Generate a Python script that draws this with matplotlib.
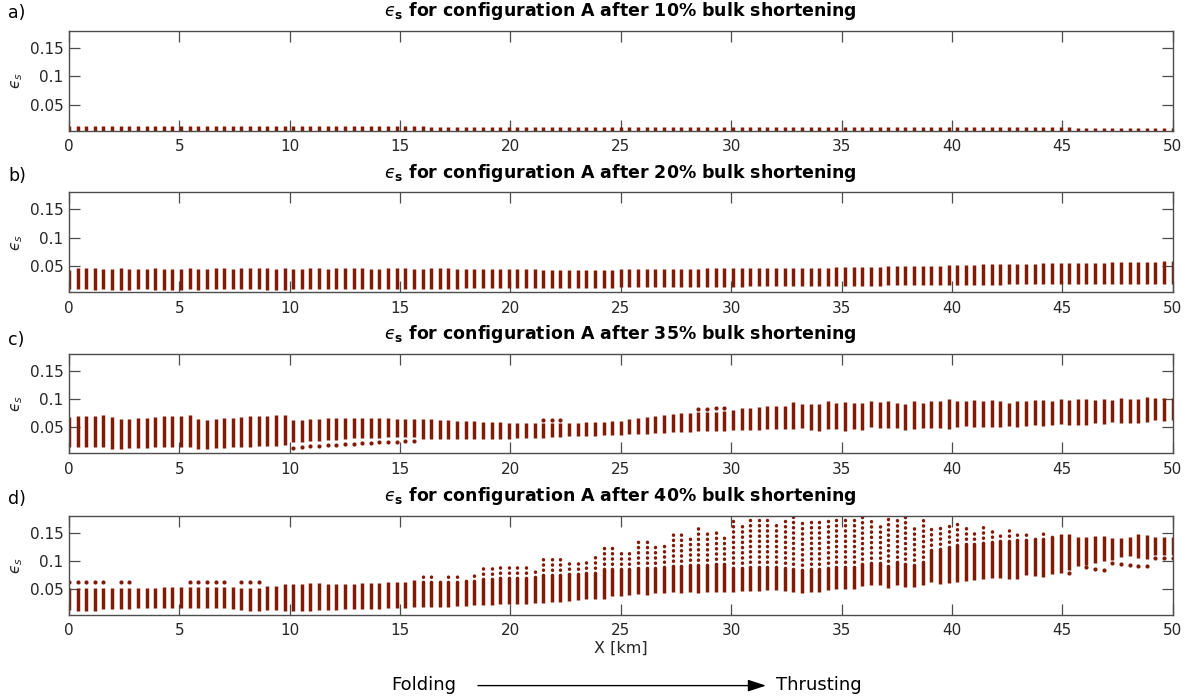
import numpy as np
import matplotlib
matplotlib.use('Agg')
import matplotlib.pyplot as plt
from matplotlib.patches import FancyArrowPatch

# ---------------- data ----------------
x_km = np.linspace(0, 50, 129)   # model columns (grid positions, km)

titles = ['10%', '20%', '35%', '40%']
panel_labels = ['a)', 'b)', 'c)', 'd)']
xticks = [0, 5, 10, 15, 20, 25, 30, 35, 40, 45, 50]
yticks = [0.05, 0.1, 0.15]
yticklabels = ['0.05', '0.1', '0.15']
nan = float('nan')

a_lo = [0.0042, 0.0042, 0.0041, 0.0041, 0.0042, 0.0042, 0.0041, 0.0041, 0.0042, 0.0042,
        0.0042, 0.0042, 0.0042, 0.0042, 0.0042, 0.0042, 0.0042, 0.0042, 0.0042, 0.0042,
        0.0042, 0.0042, 0.0042, 0.0042, 0.0042, 0.0042, 0.0042, 0.0042, 0.0042, 0.0042,
        0.0042, 0.0042, 0.0042, 0.0042, 0.0042, 0.0042, 0.0042, 0.0042, 0.0042, 0.0042,
        0.0042, 0.0042, 0.0042, 0.0042, 0.0042, 0.0042, 0.0042, 0.0042, 0.0042, 0.0042,
        0.0042, 0.0042, 0.0042, 0.0042, 0.0042, 0.0042, 0.0042, 0.0042, 0.0042, 0.0042,
        0.0042, 0.0042, 0.0042, 0.0042, 0.0042, 0.0042, 0.0042, 0.0042, 0.0042, 0.0042,
        0.0042, 0.0042, 0.0042, 0.0042, 0.0042, 0.0042, 0.0042, 0.0042, 0.0042, 0.0042,
        0.0042, 0.0042, 0.0042, 0.0042, 0.0042, 0.0042, 0.0042, 0.0042, 0.0042, 0.0042,
        0.0042, 0.0042, 0.0042, 0.0042, 0.0042, 0.0042, 0.0042, 0.0042, 0.0042, 0.0042,
        0.0043, 0.0043, 0.0043, 0.0043, 0.0043, 0.0043, 0.0043, 0.0043, 0.0043, 0.0043,
        0.0043, 0.0043, 0.0043, 0.0043, 0.0043, 0.0043, 0.0043, 0.0043, 0.0043, 0.0043,
        0.0043, 0.0043, 0.0043, 0.0043, 0.0043, 0.0043, 0.0043, 0.0043, 0.0043]
a_hi = [0.0125, 0.0126, 0.0125, 0.0126, 0.0127, 0.0127, 0.0128, 0.0128, 0.0127, 0.0126,
        0.0125, 0.0125, 0.0124, 0.0124, 0.0123, 0.0123, 0.0122, 0.0122, 0.0122, 0.0121,
        0.0121, 0.0121, 0.0120, 0.0120, 0.0120, 0.0119, 0.0119, 0.0119, 0.0118, 0.0118,
        0.0118, 0.0117, 0.0117, 0.0117, 0.0117, 0.0116, 0.0116, 0.0116, 0.0115, 0.0115,
        0.0115, 0.0115, 0.0114, 0.0114, 0.0114, 0.0113, 0.0113, 0.0113, 0.0113, 0.0112,
        0.0112, 0.0112, 0.0112, 0.0111, 0.0111, 0.0111, 0.0111, 0.0110, 0.0110, 0.0110,
        0.0110, 0.0109, 0.0109, 0.0109, 0.0109, 0.0108, 0.0108, 0.0108, 0.0108, 0.0107,
        0.0107, 0.0107, 0.0107, 0.0106, 0.0106, 0.0106, 0.0106, 0.0105, 0.0105, 0.0105,
        0.0105, 0.0104, 0.0104, 0.0104, 0.0104, 0.0103, 0.0103, 0.0103, 0.0103, 0.0102,
        0.0102, 0.0102, 0.0102, 0.0101, 0.0101, 0.0101, 0.0101, 0.0100, 0.0100, 0.0100,
        0.0100, 0.0100, 0.0099, 0.0099, 0.0099, 0.0099, 0.0099, 0.0098, 0.0098, 0.0098,
        0.0098, 0.0098, 0.0097, 0.0097, 0.0097, 0.0097, 0.0097, 0.0096, 0.0096, 0.0096,
        0.0096, 0.0096, 0.0095, 0.0095, 0.0095, 0.0095, 0.0095, 0.0094, 0.0094]

b_lo = [0.0090, 0.0092, 0.0090, 0.0088, 0.0090, 0.0088, 0.0086, 0.0088, 0.0090, 0.0090,
        0.0088, 0.0088, 0.0086, 0.0088, 0.0090, 0.0088, 0.0090, 0.0092, 0.0090, 0.0090,
        0.0092, 0.0090, 0.0090, 0.0088, 0.0088, 0.0088, 0.0090, 0.0092, 0.0092, 0.0094,
        0.0094, 0.0094, 0.0096, 0.0096, 0.0096, 0.0098, 0.0098, 0.0100, 0.0100, 0.0100,
        0.0102, 0.0102, 0.0104, 0.0104, 0.0106, 0.0106, 0.0108, 0.0108, 0.0110, 0.0110,
        0.0112, 0.0112, 0.0114, 0.0114, 0.0116, 0.0116, 0.0118, 0.0118, 0.0120, 0.0120,
        0.0122, 0.0122, 0.0124, 0.0124, 0.0126, 0.0126, 0.0128, 0.0128, 0.0130, 0.0130,
        0.0132, 0.0134, 0.0134, 0.0136, 0.0138, 0.0138, 0.0140, 0.0140, 0.0142, 0.0144,
        0.0144, 0.0146, 0.0146, 0.0148, 0.0148, 0.0150, 0.0150, 0.0152, 0.0152, 0.0154,
        0.0154, 0.0156, 0.0156, 0.0158, 0.0158, 0.0160, 0.0160, 0.0162, 0.0162, 0.0164,
        0.0164, 0.0166, 0.0166, 0.0168, 0.0170, 0.0170, 0.0172, 0.0174, 0.0176, 0.0178,
        0.0178, 0.0180, 0.0182, 0.0184, 0.0186, 0.0188, 0.0188, 0.0190, 0.0190, 0.0190,
        0.0190, 0.0192, 0.0190, 0.0190, 0.0188, 0.0190, 0.0190, 0.0192, 0.0190]
b_hi = [0.044, 0.047, 0.047, 0.046, 0.045, 0.045, 0.046, 0.045, 0.045, 0.045,
        0.046, 0.045, 0.045, 0.045, 0.046, 0.045, 0.045, 0.046, 0.046, 0.045,
        0.046, 0.046, 0.046, 0.046, 0.045, 0.046, 0.045, 0.045, 0.046, 0.046,
        0.045, 0.046, 0.046, 0.046, 0.046, 0.045, 0.045, 0.046, 0.046, 0.046,
        0.045, 0.045, 0.046, 0.046, 0.046, 0.045, 0.045, 0.045, 0.045, 0.045,
        0.045, 0.045, 0.045, 0.045, 0.045, 0.044, 0.044, 0.044, 0.044, 0.044,
        0.044, 0.044, 0.044, 0.044, 0.045, 0.045, 0.045, 0.045, 0.045, 0.045,
        0.045, 0.045, 0.045, 0.045, 0.046, 0.046, 0.046, 0.046, 0.046, 0.046,
        0.046, 0.046, 0.046, 0.046, 0.046, 0.046, 0.047, 0.047, 0.047, 0.048,
        0.048, 0.048, 0.049, 0.049, 0.049, 0.050, 0.050, 0.050, 0.050, 0.051,
        0.051, 0.051, 0.052, 0.052, 0.052, 0.052, 0.053, 0.053, 0.053, 0.053,
        0.054, 0.054, 0.054, 0.055, 0.055, 0.055, 0.055, 0.056, 0.056, 0.056,
        0.056, 0.057, 0.057, 0.058, 0.058, 0.058, 0.058, 0.059, 0.059]

c_lo = [0.0159, 0.0159, 0.0159, 0.0159, 0.0147, 0.0118, 0.0118, 0.0130, 0.0130, 0.0135,
        0.0147, 0.0147, 0.0147, 0.0159, 0.0159, 0.0118, 0.0118, 0.0130, 0.0141, 0.0147,
        0.0159, 0.0159, 0.0165, 0.0170, 0.0177, 0.0188, 0.0235, 0.0247, 0.0259, 0.0265,
        0.0277, 0.0282, 0.0294, 0.0306, 0.0312, 0.0318, 0.0318, 0.0324, 0.0326, 0.0328,
        0.0330, 0.0300, 0.0300, 0.0300, 0.0300, 0.0300, 0.0300, 0.0300, 0.0300, 0.0300,
        0.0300, 0.0300, 0.0310, 0.0310, 0.0320, 0.0320, 0.0330, 0.0330, 0.0340, 0.0340,
        0.0350, 0.0350, 0.0360, 0.0360, 0.0370, 0.0380, 0.0380, 0.0390, 0.0400, 0.0400,
        0.0410, 0.0420, 0.0420, 0.0430, 0.0430, 0.0440, 0.0440, 0.0450, 0.0450, 0.0460,
        0.0460, 0.0470, 0.0470, 0.0470, 0.0470, 0.0480, 0.0450, 0.0430, 0.0470, 0.0470,
        0.0440, 0.0470, 0.0450, 0.0500, 0.0480, 0.0480, 0.0480, 0.0450, 0.0470, 0.0480,
        0.0480, 0.0480, 0.0470, 0.0500, 0.0520, 0.0500, 0.0510, 0.0500, 0.0510, 0.0530,
        0.0500, 0.0530, 0.0540, 0.0530, 0.0540, 0.0560, 0.0540, 0.0540, 0.0550, 0.0570,
        0.0560, 0.0590, 0.0570, 0.0570, 0.0580, 0.0590, 0.0635, 0.0620, 0.0635]
c_hi = [0.0688, 0.0694, 0.0694, 0.0706, 0.0718, 0.0676, 0.0647, 0.0647, 0.0659, 0.0671,
        0.0676, 0.0694, 0.0700, 0.0706, 0.0718, 0.0647, 0.0635, 0.0647, 0.0659, 0.0671,
        0.0682, 0.0694, 0.0700, 0.0706, 0.0712, 0.0723, 0.0629, 0.0635, 0.0647, 0.0653,
        0.0659, 0.0665, 0.0665, 0.0665, 0.0665, 0.0659, 0.0659, 0.0659, 0.0650, 0.0650,
        0.0640, 0.0640, 0.0640, 0.0630, 0.0630, 0.0620, 0.0620, 0.0610, 0.0600, 0.0600,
        0.0590, 0.0580, 0.0580, 0.0570, 0.0570, 0.0570, 0.0575, 0.0575, 0.0580, 0.0580,
        0.0590, 0.0590, 0.0600, 0.0610, 0.0620, 0.0640, 0.0660, 0.0680, 0.0700, 0.0720,
        0.0740, 0.0750, 0.0760, 0.0770, 0.0775, 0.0780, 0.0790, 0.0800, 0.0840, 0.0850,
        0.0860, 0.0870, 0.0870, 0.0870, 0.0950, 0.0920, 0.0910, 0.0910, 0.0960, 0.0940,
        0.0950, 0.0940, 0.0940, 0.0970, 0.0950, 0.0960, 0.0940, 0.0910, 0.0960, 0.0940,
        0.0960, 0.0960, 0.1000, 0.0970, 0.0960, 0.0980, 0.0960, 0.0980, 0.0970, 0.0940,
        0.0970, 0.0960, 0.0990, 0.0980, 0.0970, 0.1000, 0.0980, 0.1010, 0.1000, 0.0980,
        0.1000, 0.0990, 0.1020, 0.1010, 0.1000, 0.1030, 0.1020, 0.1020, 0.1020]
# isolated dots of panel c (above / below the continuous part of a column)
c_top_dot = [nan] * 55 + [0.0630, 0.0630, 0.0630] + [nan] * 15 + \
            [0.0830, 0.0830, 0.0835, 0.0840] + [nan] * 52
c_bot_dot = [nan] * 26 + [0.0135, 0.0147, 0.0165, 0.0170, 0.0188, 0.0194, 0.0206,
                          0.0212, 0.0224, 0.0224, 0.0235, 0.0235, 0.0240, 0.0250,
                          0.0255] + [nan] * 88

d_lo = [0.013, 0.012, 0.011, 0.011, 0.015, 0.015, 0.015, 0.015, 0.017, 0.017,
        0.017, 0.017, 0.017, 0.017, 0.016, 0.016, 0.016, 0.016, 0.016, 0.014,
        0.013, 0.011, 0.011, 0.013, 0.013, 0.011, 0.011, 0.012, 0.012, 0.013,
        0.013, 0.013, 0.014, 0.014, 0.014, 0.015, 0.015, 0.016, 0.016, 0.017,
        0.018, 0.019, 0.019, 0.019, 0.019, 0.020, 0.020, 0.022, 0.0213, 0.022,
        0.023, 0.0236, 0.023, 0.0242, 0.0248, 0.026, 0.0266, 0.0266, 0.029, 0.0313,
        0.0325, 0.0325, 0.0325, 0.0384, 0.0384, 0.0396, 0.0408, 0.0396, 0.0426, 0.0432,
        0.0444, 0.0426, 0.0444, 0.0426, 0.0444, 0.0455, 0.0455, 0.0455, 0.0467, 0.0473,
        0.0473, 0.048, 0.0485, 0.0467, 0.0453, 0.0435, 0.0453, 0.0447, 0.0477, 0.0494,
        0.0494, 0.0494, 0.0553, 0.0571, 0.0565, 0.0524, 0.0582, 0.0541, 0.0535, 0.0582,
        0.063, 0.0594, 0.0612, 0.063, 0.0653, 0.067, 0.0682, 0.070, 0.070, 0.0688,
        0.0688, 0.0747, 0.073, 0.0718, 0.077, 0.0788, 0.0847, 0.0906, 0.0935, 0.0965,
        0.0994, 0.1024, 0.1065, 0.1082, 0.1053, 0.1035, 0.1112, 0.1112, 0.1112]
# top of the densely packed (solid-looking) part of each column
d_mid = [0.052, 0.052, 0.052, 0.052, 0.052, 0.052, 0.052, 0.052, 0.052, 0.052,
         0.052, 0.053, 0.053, 0.053, 0.053, 0.053, 0.053, 0.053, 0.053, 0.053,
         0.052, 0.052, 0.052, 0.055, 0.056, 0.060, 0.060, 0.060, 0.061, 0.061,
         0.060, 0.060, 0.060, 0.060, 0.061, 0.061, 0.061, 0.062, 0.062, 0.062,
         0.066, 0.062, 0.062, 0.062, 0.063, 0.063, 0.064, 0.064, 0.068, 0.068,
         0.069, 0.069, 0.070, 0.070, 0.071, 0.075, 0.076, 0.076, 0.077, 0.077,
         0.078, 0.079, 0.085, 0.085, 0.086, 0.086, 0.087, 0.088, 0.088, 0.089,
         0.092, 0.092, 0.093, 0.093, 0.093, 0.094, 0.094, 0.088, 0.088, 0.089,
         0.089, 0.090, 0.090, 0.088, 0.086, 0.084, 0.086, 0.085, 0.088, 0.090,
         0.090, 0.090, 0.094, 0.096, 0.096, 0.092, 0.098, 0.094, 0.093, 0.098,
         0.120, 0.122, 0.125, 0.128, 0.130, 0.130, 0.132, 0.133, 0.135, 0.135,
         0.138, 0.138, 0.140, 0.140, 0.142, 0.1476, 0.1476, 0.1423, 0.1435, 0.1447,
         0.1453, 0.1406, 0.1417, 0.1423, 0.148, 0.1465, 0.1435, 0.1435, 0.1423]
d_hi = [0.052, 0.052, 0.052, 0.052, 0.052, 0.052, 0.052, 0.052, 0.052, 0.052,
        0.052, 0.053, 0.053, 0.053, 0.053, 0.053, 0.053, 0.053, 0.053, 0.053,
        0.052, 0.052, 0.052, 0.055, 0.056, 0.060, 0.060, 0.060, 0.061, 0.061,
        0.060, 0.060, 0.060, 0.060, 0.061, 0.061, 0.061, 0.062, 0.062, 0.062,
        0.066, 0.078, 0.078, 0.069, 0.079, 0.079, 0.073, 0.0745, 0.088, 0.089,
        0.089, 0.090, 0.091, 0.090, 0.090, 0.103, 0.1036, 0.1036, 0.103, 0.102,
        0.106, 0.1065, 0.125, 0.1237, 0.122, 0.118, 0.140, 0.1385, 0.134, 0.131,
        0.148, 0.149, 0.145, 0.160, 0.149, 0.157, 0.147, 0.1746, 0.170, 0.174,
        0.173, 0.173, 0.1716, 0.171, 0.180, 0.1747, 0.1788, 0.1759, 0.177, 0.177,
        0.1747, 0.180, 0.180, 0.1788, 0.167, 0.1788, 0.174, 0.1788, 0.1594, 0.1788,
        0.1612, 0.1594, 0.163, 0.167, 0.1659, 0.1523, 0.163, 0.1564, 0.1476, 0.163,
        0.1523, 0.1494, 0.1465, 0.1494, 0.1476, 0.1476, 0.1476, 0.1423, 0.1435, 0.1447,
        0.1453, 0.1406, 0.1417, 0.1423, 0.148, 0.1465, 0.1435, 0.1435, 0.1423]
d_top_dot = [0.063, 0.063, 0.063, 0.063, 0.063, nan, 0.063, 0.063, nan, nan,
             nan, nan, nan, nan, 0.063, 0.063, 0.063, 0.063, 0.063, nan,
             0.063, 0.063, 0.063] + [nan] * 106
d_bot_dot = [nan] * 116 + [0.0788, nan, 0.0888, 0.0865, 0.0835, 0.0965, 0.0953,
                           0.0935, 0.0918, 0.0906, 0.1053, 0.1053, 0.1053]

# ---------------- figure ----------------
W, H = 1190, 700
fig = plt.figure(figsize=(W / 100, H / 100), dpi=100)
COL = '#821a08'
TXT = '#262626'
SP = '#4d4d4d'
EPS = '\u03f5'

left_px, right_px = 69, 1172.7
panel_px = [(31, 130.7), (192.3, 292.3), (354, 453.3), (516, 615)]
label_y = [13.5, 176, 340, 499]
LW = 2.5

axes = []
for k, (top, bot) in enumerate(panel_px):
    ax = fig.add_axes([left_px / W, 1 - bot / H, (right_px - left_px) / W, (bot - top) / H])
    axes.append(ax)
    if k == 0:
        ax.vlines(x_km, a_lo, a_hi, colors=COL, linewidths=LW)
    elif k == 1:
        ax.vlines(x_km, b_lo, b_hi, colors=COL, linewidths=LW)
    elif k == 2:
        ax.vlines(x_km, c_lo, c_hi, colors=COL, linewidths=LW)
        ax.plot(x_km, c_top_dot, 'o', color=COL, ms=3.0, mew=0)
        ax.plot(x_km, c_bot_dot, 'o', color=COL, ms=3.0, mew=0)
    else:
        ax.vlines(x_km, d_lo, d_mid, colors=COL, linewidths=LW)
        sparse = np.array(d_hi) - np.array(d_mid) > 1e-4
        lc = ax.vlines(x_km[sparse], np.array(d_mid)[sparse], np.array(d_hi)[sparse],
                       colors=COL, linewidths=LW, linestyles=[(0, (0.05, 1.45))])
        lc.set_capstyle('round')
        ax.plot(x_km, d_top_dot, 'o', color=COL, ms=3.0, mew=0)
        ax.plot(x_km, d_bot_dot, 'o', color=COL, ms=3.0, mew=0)
    ax.set_xlim(0, 50)
    ax.set_ylim(0.004, 0.18)
    ax.set_xticks(xticks)
    ax.set_xticklabels([str(t) for t in xticks])
    ax.set_yticks(yticks)
    ax.set_yticklabels(yticklabels)
    ax.tick_params(direction='in', length=8, width=0.9, color=SP, labelcolor=TXT,
                   labelsize=11, top=True, right=True)
    ax.tick_params(axis='x', pad=6)
    ax.tick_params(axis='y', pad=4)
    for s in ax.spines.values():
        s.set_color(SP)
        s.set_linewidth(1.0)
    ax.set_ylabel('$' + EPS + '_s$', fontsize=11, color=TXT)
    ax.yaxis.set_label_coords((25 - left_px) / (right_px - left_px), 0.5)
    ax.set_title('$' + EPS + r'_\mathbf{s}$ for configuration A after ' + titles[k] + ' bulk shortening',
                 fontsize=12.5, fontweight='bold', pad=10.5)
    fig.text(8 / W, 1 - label_y[k] / H, panel_labels[k], fontsize=12.5, va='center', ha='left')

axes[3].set_xlabel('X [km]', fontsize=11.5, color=TXT, labelpad=2)

fig.text(424 / W, 1 - 685 / H, 'Folding', fontsize=13, ha='center', va='center')
fig.text(819 / W, 1 - 685 / H, 'Thrusting', fontsize=13, ha='center', va='center')
arr = FancyArrowPatch((478 / W, 1 - 685.6 / H), (766 / W, 1 - 685.6 / H),
                      transform=fig.transFigure,
                      arrowstyle='-|>,head_length=11,head_width=3.6',
                      mutation_scale=1, color='black', lw=1.0, shrinkA=0, shrinkB=0)
fig.add_artist(arr)

fig.savefig('out.png', dpi=100)
